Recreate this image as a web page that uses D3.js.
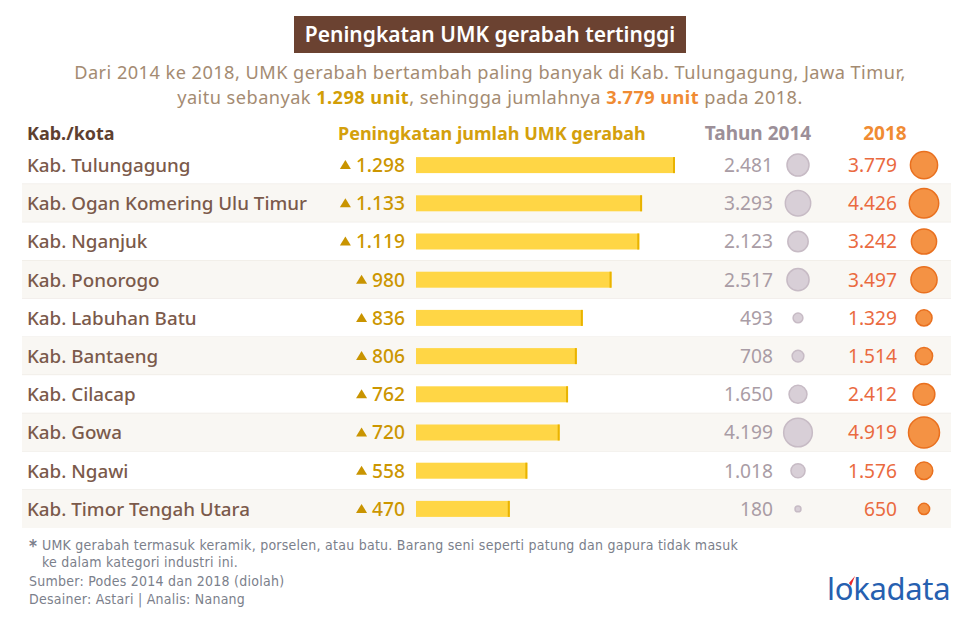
<!DOCTYPE html>
<html><head><meta charset="utf-8">
<script src="https://cdn.jsdelivr.net/npm/d3@7"></script>
<style>
html,body{margin:0;padding:0;background:#fff;}
svg{display:block;font-family:"Noto Sans",sans-serif;}
</style></head>
<body><svg id="c" width="980" height="619"></svg>
<script>
const regions = ["Kab. Tulungagung","Kab. Ogan Komering Ulu Timur","Kab. Nganjuk","Kab. Ponorogo","Kab. Labuhan Batu","Kab. Bantaeng","Kab. Cilacap","Kab. Gowa","Kab. Ngawi","Kab. Timor Tengah Utara"];
const increase = [1298,1133,1119,980,836,806,762,720,558,470];
const y2014 = [2481,3293,2123,2517,493,708,1650,4199,1018,180];
const y2018 = [3779,4426,3242,3497,1329,1514,2412,4919,1576,650];
const headers = ["Kab./kota","Peningkatan jumlah UMK gerabah","Tahun 2014","2018"];
const title = "Peningkatan UMK gerabah tertinggi";
const notes = ["UMK gerabah termasuk keramik, porselen, atau batu. Barang seni seperti patung dan gapura tidak masuk","ke dalam kategori industri ini.","Sumber: Podes 2014 dan 2018 (diolah)","Desainer: Astari | Analis: Nanang"];

const fmt = v => d3.format(",")(v).replace(/,/g,".");
const svg = d3.select("#c");

// title
svg.append("rect").attr("x",294).attr("y",16).attr("width",392).attr("height",37).attr("fill","#6b4231");
svg.append("text").attr("x",490).attr("y",42).attr("text-anchor","middle").attr("fill","#fff")
  .attr("font-size",21).attr("font-weight",600).text(title);

// subtitle
const sub = svg.append("g").attr("fill","#a48b72").attr("font-size",18.2).attr("letter-spacing",0.45).attr("text-anchor","middle");
sub.append("text").attr("x",490).attr("y",79).text("Dari 2014 ke 2018, UMK gerabah bertambah paling banyak di Kab. Tulungagung, Jawa Timur,");
const l2 = sub.append("text").attr("x",490).attr("y",104);
l2.append("tspan").text("yaitu sebanyak ");
l2.append("tspan").attr("fill","#d29e06").attr("font-weight",700).text(fmt(increase[0])+" unit");
l2.append("tspan").text(", sehingga jumlahnya ");
l2.append("tspan").attr("fill","#f08b33").attr("font-weight",700).text(fmt(y2018[0])+" unit");
l2.append("tspan").text(" pada 2018.");

// scales
const yScale = d3.scaleBand().domain(regions).range([146,528]);
const xBar = d3.scaleLinear().domain([0,1298]).range([416,675]);
const rScale = d3.scaleSqrt().domain([0,d3.max(y2018)]).range([0,15.5]);

// headers
const hy = 140;
svg.append("text").attr("x",27).attr("y",hy).attr("fill","#5e3f30").attr("font-size",18).attr("font-weight",700).text(headers[0]);
svg.append("text").attr("x",338).attr("y",hy).attr("fill","#d4a00c").attr("font-size",18).attr("font-weight",700).text(headers[1]);
svg.append("text").attr("x",758).attr("y",hy).attr("text-anchor","middle").attr("fill","#9c8f98").attr("font-size",19).attr("font-weight",700).text(headers[2]);
svg.append("text").attr("x",885).attr("y",hy).attr("text-anchor","middle").attr("fill","#f08b33").attr("font-size",19).attr("font-weight",700).text(headers[3]);

// rows
const rows = svg.selectAll("g.row").data(regions).join("g").attr("class","row")
  .attr("transform",d=>`translate(0,${yScale(d)})`);
const bh = yScale.bandwidth();
rows.append("rect").attr("x",22).attr("width",929).attr("height",bh)
  .attr("fill",(d,i)=> i%2 ? "#f9f7f3" : "#fff");
rows.filter((d,i)=>i<regions.length-1).append("line").attr("x1",22).attr("x2",951).attr("y1",bh).attr("y2",bh)
  .attr("stroke","#ede9e3").attr("stroke-width",1.2);
const cy = bh/2;
rows.append("text").attr("x",27).attr("y",cy+7).attr("fill","#7b5a4b").attr("font-size",18.8).attr("font-weight",500).text(d=>d);

// bars
rows.append("rect").attr("x",xBar(0)).attr("y",cy-8).attr("height",16)
  .attr("width",(d,i)=>xBar(increase[i])-xBar(0)).attr("fill","#ffd645");
rows.append("rect").attr("x",(d,i)=>xBar(increase[i])-2).attr("y",cy-8).attr("height",16).attr("width",2).attr("fill","#e9b300");

// increase numbers + triangles
rows.each(function(d,i){
  const g = d3.select(this);
  const t = g.append("text").attr("x",405).attr("y",cy+7).attr("text-anchor","end")
    .attr("fill","#cc9600").attr("font-size",19.2).attr("font-weight",500).text(fmt(increase[i]));
  const w = t.node().getComputedTextLength();
  const tx = 405 - w - 5;
  g.append("path").attr("d",`M${tx-11},${cy+4} L${tx},${cy+4} L${tx-5.5},${cy-5} Z`).attr("fill","#c99400");
});

// 2014
rows.append("text").attr("x",773).attr("y",cy+7).attr("text-anchor","end").attr("fill","#a99ca5")
  .attr("font-size",19.2).text((d,i)=>fmt(y2014[i]));
rows.append("circle").attr("cx",798).attr("cy",cy).attr("r",(d,i)=>rScale(y2014[i]))
  .attr("fill","#d8cfd7").attr("stroke","#c7bbc5").attr("stroke-width",1.5);
// 2018
rows.append("text").attr("x",897).attr("y",cy+7).attr("text-anchor","end").attr("fill","#ea6a3f")
  .attr("font-size",19.2).text((d,i)=>fmt(y2018[i]));
rows.append("circle").attr("cx",924).attr("cy",cy).attr("r",(d,i)=>rScale(y2018[i]))
  .attr("fill","#f49244").attr("stroke","#e9701f").attr("stroke-width",1.5);

// notes
const nf = '"Liberation Sans Narrow","DejaVu Sans Condensed",sans-serif';
const ng = svg.append("g").attr("fill","#7b808b").attr("font-size",14).attr("letter-spacing",0.25).style("font-family",nf);
ng.append("text").attr("x",29).attr("y",552).attr("font-size",17).attr("font-weight",700).text("*");
ng.append("text").attr("x",42).attr("y",550).text(notes[0]);
ng.append("text").attr("x",42).attr("y",567).text(notes[1]);
ng.append("text").attr("x",29).attr("y",586).text(notes[2]);
ng.append("text").attr("x",29).attr("y",604).text(notes[3]);

// logo
const lg = svg.append("g");
lg.append("text").attr("x",827).attr("y",600).attr("fill","#2660b0").attr("font-size",31).attr("font-weight",400)
  .attr("letter-spacing",-0.3).text("lokadata");
lg.append("path").attr("d","M849,583 L855,576 L851,586 Z").attr("fill","#e8262b");
</script></body></html>
